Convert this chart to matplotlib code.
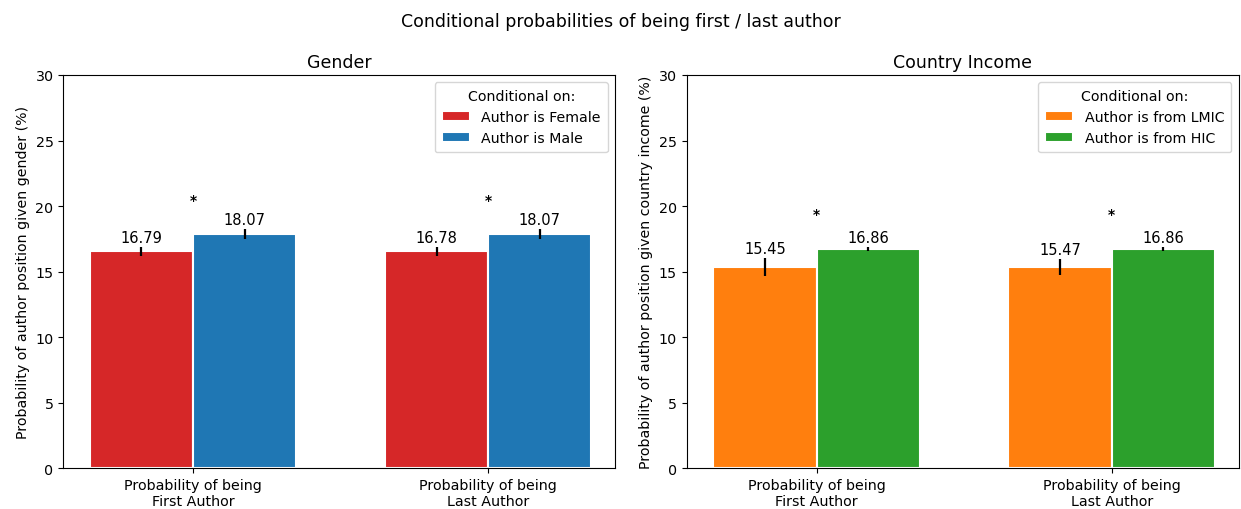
import numpy as np
import matplotlib.pyplot as plt

positions = ['Probability of being\nFirst Author', 'Probability of being\nLast Author']

# gender panel
gender_groups = ['Author is Female', 'Author is Male']
gender_heights = [[16.55, 16.55], [17.88, 17.88]]
gender_labels = [['16.79', '16.78'], ['18.07', '18.07']]
gender_err = [[0.35, 0.35], [0.4, 0.4]]
gender_star = [20.5, 20.5]

# country income panel
income_groups = ['Author is from LMIC', 'Author is from HIC']
income_heights = [[15.35, 15.37], [16.7, 16.7]]
income_labels = [['15.45', '15.47'], ['16.86', '16.86']]
income_err = [[0.7, 0.6], [0.15, 0.15]]
income_star = [19.4, 19.4]


def draw_panel(ax, title, ylabel, groups, heights, labels, errs, stars, colors):
    x = np.arange(len(positions))
    w = 0.35
    for i in range(len(groups)):
        xs = x + (i - 0.5) * w
        ax.bar(xs, heights[i], width=w, color=colors[i], edgecolor='white',
               linewidth=1.5, label=groups[i], yerr=errs[i],
               error_kw=dict(ecolor='black', elinewidth=1.6, capsize=0))
        for j in range(len(xs)):
            ax.text(xs[j], heights[i][j] + errs[i][j] + 0.15, labels[i][j],
                    ha='center', va='bottom', fontsize=10.5)
    for j in range(len(x)):
        ax.text(x[j], stars[j], '*', ha='center', va='center', fontsize=10,
                fontweight='bold')
    ax.set_xticks(x)
    ax.set_xticklabels(positions, fontsize=10.3)
    ax.tick_params(axis='y', labelsize=10.3)
    ax.set_xlim(-0.44, 1.43)
    ax.set_ylim(0, 30)
    ax.set_title(title, fontsize=12.5)
    ax.set_ylabel(ylabel, fontsize=10.2)
    ax.legend(title='Conditional on:', loc='upper right', fontsize=10.2,
              title_fontsize=10.2, borderpad=0.5)


fig, (ax1, ax2) = plt.subplots(1, 2, figsize=(12.41, 5.10), dpi=100)
fig.subplots_adjust(left=0.051, right=0.998, top=0.851, bottom=0.08, wspace=0.13)

draw_panel(ax1, 'Gender', 'Probability of author position given gender (%)',
           gender_groups, gender_heights, gender_labels, gender_err, gender_star,
           ['#d62728', '#1f77b4'])
draw_panel(ax2, 'Country Income', 'Probability of author position given country income (%)',
           income_groups, income_heights, income_labels, income_err, income_star,
           ['#ff7f0e', '#2ca02c'])

fig.suptitle('Conditional probabilities of being first / last author', fontsize=12.5, y=0.975)
fig.savefig('out.png')
